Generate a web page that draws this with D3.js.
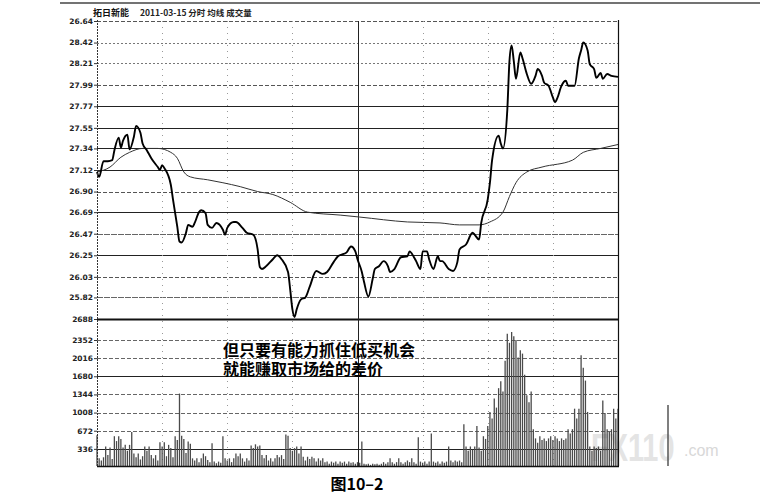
<!DOCTYPE html>
<html><head><meta charset="utf-8">
<script src="https://cdn.jsdelivr.net/npm/d3@7"></script>
<style>html,body{margin:0;padding:0;background:#fff;}svg{display:block;}body{position:relative;}</style>
</head><body>
<svg id="c" width="768" height="496"></svg>
<script>
// ---- data ----
const titleStock = "拓日新能";
const titleRest = "2011-03-15 分时 均线 成交量";
const caption = "图10–2";
const noteLines = ["但只要有能力抓住低买机会", "就能赚取市场给的差价"];
const watermark = ["FX110", ".com"];
const priceTicks = [28.64, 28.42, 28.21, 27.99, 27.77, 27.55, 27.34, 27.12, 26.90, 26.69, 26.47, 26.25, 26.03, 25.82, 25.60];
const priceTickLabels = ["26.64","28.42","28.21","27.99","27.77","27.55","27.34","27.12","26.90","26.69","26.47","26.25","26.03","25.82","2688"];
const volTicks = [2352, 2016, 1680, 1344, 1008, 672, 336];
const volTickLabels = ["2352","2016","1680","1344","1008","672","336"];
const timeMarks = [30, 60, 90, 120, 150, 180, 210];
// price line: minute, price
const priceMin = [0,1,3,5,7,8,10,11,12,14,15,17,18,20,21,23,25,28,29,30,31,34,35,37,38,39,41,42,44,45,47,48,50,51,53,55,58,59,60,63,64,67,69,72,74,75,76,78,81,83,85,88,89,90,91,92,94,96,98,101,104,106,109,111,113,115,117,119,120,122,123,125,127,128,130,132,134,135,137,140,143,144,146,147,149,150,152,153,155,157,158,159,162,164,166,167,170,173,174,176,177,180,181,182,185,186,187,189,190,191,192,193,195,196,198,200,202,203,205,206,208,210,211,212,214,216,217,220,222,223,224,226,227,229,230,232,233,235,237,240];
const priceVal = [27.10,27.05,27.21,27.21,27.22,27.32,27.45,27.35,27.42,27.48,27.33,27.46,27.57,27.50,27.39,27.32,27.24,27.15,27.12,27.17,27.14,26.97,26.82,26.54,26.39,26.38,26.48,26.56,26.54,26.58,26.69,26.71,26.68,26.56,26.53,26.58,26.51,26.46,26.53,26.59,26.59,26.53,26.48,26.46,26.31,26.13,26.11,26.14,26.21,26.25,26.21,26.08,25.90,25.70,25.62,25.70,25.80,25.82,25.93,26.09,26.06,26.08,26.18,26.24,26.26,26.28,26.34,26.29,26.21,26.08,25.98,25.83,26.01,26.11,26.14,26.19,26.14,26.08,26.11,26.23,26.24,26.29,26.23,26.19,26.11,26.29,26.29,26.21,26.11,26.24,26.19,26.19,26.11,26.09,26.18,26.31,26.36,26.48,26.46,26.41,26.58,26.82,26.99,27.22,27.47,27.39,27.34,27.73,28.23,28.39,28.23,28.05,28.32,28.26,28.10,28.00,28.08,28.15,28.08,28.01,27.98,27.86,27.81,27.85,27.98,28.03,27.98,27.98,28.26,28.34,28.42,28.34,28.20,28.15,28.06,28.11,28.05,28.10,28.08,28.07];
// average line: minute, price
const avgMin = [0,6,11,15,21,28,34,37,40,43,51,58,66,74,81,89,97,112,121,143,158,167,176,181,187,190,193,198,205,219,224,232,240];
const avgVal = [27.10,27.15,27.25,27.30,27.34,27.34,27.30,27.24,27.10,27.05,27.02,26.99,26.95,26.90,26.87,26.79,26.69,26.66,26.64,26.59,26.58,26.56,26.56,26.59,26.69,26.85,26.99,27.10,27.15,27.22,27.30,27.34,27.38];
// volume per minute (0..240)
const volume = [
590,160,120,180,380,220,360,150,570,480,
570,520,360,410,300,410,650,250,180,250,
140,200,380,300,380,220,160,220,120,460,
380,460,200,410,350,180,570,500,1360,580,
520,260,470,430,160,120,160,90,160,250,
200,130,90,440,100,70,100,80,570,160,
120,160,90,160,250,200,250,160,100,160,
120,400,350,420,380,400,220,160,220,120,
160,100,160,220,180,220,150,600,580,350,
300,350,380,250,380,190,120,190,150,190,
160,100,160,120,160,90,100,60,100,80,
100,60,100,80,100,60,100,80,90,60,
90,80,470,60,50,60,40,60,50,60,
40,60,90,60,90,160,90,60,90,160,
90,60,90,120,90,160,90,60,550,100,
80,100,60,100,620,100,80,100,60,100,
80,100,380,120,90,120,100,120,90,790,
380,300,380,320,380,760,360,300,570,520,
760,1020,900,1270,1100,1460,1590,1400,1970,2470,
2300,2500,2420,2350,2030,2160,2100,1710,1330,1200,
1400,700,530,450,570,500,530,480,530,570,
500,570,530,480,530,500,530,700,620,700,
1080,900,1080,2070,1840,1600,1020,380,300,380,
350,380,300,1230,1000,700,650,700,1080,900,
1080];

// ---- drawing ----
const svg = d3.select("#c");
const L = 97, R = 618;
const x = d3.scaleLinear().domain([0, 240]).range([L, R]);
const yP = d3.scaleLinear().domain([25.60, 28.64]).range([319, 21]);
const yV = d3.scaleLinear().domain([0, 2352]).range([467, 340]);
const VB = 466;

// page top line
svg.append("line").attr("x1", 60).attr("x2", 760).attr("y1", 3).attr("y2", 3)
  .attr("stroke", "#444").attr("stroke-width", 1.5);

// watermark (behind)
svg.append("text").attr("transform", "translate(591,461) scale(0.76,1)").text(watermark[0])
  .attr("font-family", "Arial, 'Liberation Sans', sans-serif")
  .attr("font-weight", "bold").attr("font-size", 38).attr("fill", "#e4e4e4");
svg.append("text").attr("x", 684).attr("y", 456).text(watermark[1])
  .attr("font-family", "Arial, 'Liberation Sans', sans-serif")
  .attr("font-size", 16).attr("fill", "#d8d8d8");

// price gridlines
const pStyle = ["dash","dot","dot","dash","solid","solid","solid","solid","dash","solid","gray","solid","dash","gray","thick"];
const gP = svg.append("g");
priceTicks.forEach((v, i) => {
  const s = pStyle[i];
  const ln = gP.append("line").attr("x1", L).attr("x2", R)
    .attr("y1", Math.round(yP(v)) + 0.5).attr("y2", Math.round(yP(v)) + 0.5);
  if (s === "solid") ln.attr("stroke", "#222").attr("stroke-width", 1);
  else if (s === "thick") ln.attr("stroke", "#111").attr("stroke-width", 2);
  else if (s === "gray") ln.attr("stroke", "#666").attr("stroke-width", 1).attr("stroke-dasharray", "6,1");
  else if (s === "dash") ln.attr("stroke", "#555").attr("stroke-width", 1).attr("stroke-dasharray", "4,2");
  else ln.attr("stroke", "#777").attr("stroke-width", 1).attr("stroke-dasharray", "2,2");
});
// volume gridlines
const vStyle = ["dash","dash","solid","dash","dash","dash","solid"];
volTicks.forEach((v, i) => {
  const ln = gP.append("line").attr("x1", L).attr("x2", R)
    .attr("y1", Math.round(yV(v)) + 0.5).attr("y2", Math.round(yV(v)) + 0.5);
  if (vStyle[i] === "solid") ln.attr("stroke", "#222").attr("stroke-width", 1);
  else ln.attr("stroke", "#666").attr("stroke-width", 1).attr("stroke-dasharray", "4,2");
});
// vertical time lines
timeMarks.forEach(t => {
  const xx = Math.round(x(t)) + 0.5;
  if (t === 120) {
    gP.append("line").attr("x1", xx).attr("x2", xx).attr("y1", 21).attr("y2", VB)
      .attr("stroke", "#222").attr("stroke-width", 1);
  } else {
    gP.append("line").attr("x1", xx).attr("x2", xx).attr("y1", 21).attr("y2", VB)
      .attr("stroke", "#999").attr("stroke-width", 1).attr("stroke-dasharray", "1,5");
  }
});

// volume bars
svg.append("g").selectAll("line").data(volume).join("line")
  .attr("x1", (d, i) => x(i)).attr("x2", (d, i) => x(i))
  .attr("y1", VB).attr("y2", d => Math.max(yV(d), 322))
  .attr("stroke", "#4a4a4a").attr("stroke-width", 1.3);

// average line
const avgData = avgMin.map((m, i) => [m, avgVal[i]]);
svg.append("path").datum(avgData)
  .attr("d", d3.line().x(d => x(d[0])).y(d => yP(d[1])).curve(d3.curveMonotoneX))
  .attr("fill", "none").attr("stroke", "#333").attr("stroke-width", 1);

// price line
const priceData = priceMin.map((m, i) => [m, priceVal[i]]);
svg.append("path").datum(priceData)
  .attr("d", d3.line().x(d => x(d[0])).y(d => yP(d[1])).curve(d3.curveMonotoneX))
  .attr("fill", "none").attr("stroke", "#000").attr("stroke-width", 1.9).attr("stroke-linejoin", "round");

// frame
svg.append("line").attr("x1", L + 0.5).attr("x2", L + 0.5).attr("y1", 20).attr("y2", VB)
  .attr("stroke", "#333").attr("stroke-width", 1).attr("stroke-dasharray", "2,1");
svg.append("line").attr("x1", R + 0.5).attr("x2", R + 0.5).attr("y1", 20).attr("y2", VB)
  .attr("stroke", "#111").attr("stroke-width", 1.2);
svg.append("line").attr("x1", L).attr("x2", R + 1).attr("y1", VB + 0.5).attr("y2", VB + 0.5)
  .attr("stroke", "#111").attr("stroke-width", 1.6);
// stray mark near watermark
svg.append("line").attr("x1", 668).attr("x2", 668).attr("y1", 405).attr("y2", VB)
  .attr("stroke", "#555").attr("stroke-width", 1.5);

// axes
const axP = d3.axisLeft(yP).tickValues(priceTicks)
  .tickFormat((d, i) => priceTickLabels[i]).tickSize(3).tickPadding(1);
const gAP = svg.append("g").attr("transform", `translate(${L},0)`).call(axP);
const axV = d3.axisLeft(yV).tickValues(volTicks)
  .tickFormat((d, i) => volTickLabels[i]).tickSize(3).tickPadding(1);
const gAV = svg.append("g").attr("transform", `translate(${L},0)`).call(axV);
[gAP, gAV].forEach(g => {
  g.select(".domain").remove();
  g.selectAll(".tick line").attr("stroke", "#333");
  g.selectAll("text").attr("font-family", "'DejaVu Sans', sans-serif")
    .attr("font-size", 7.5).attr("font-weight", "bold").attr("fill", "#222");
});

// header
svg.append("text").attr("x", 93).attr("y", 16).text(titleStock)
  .attr("font-family", "'Noto Sans CJK SC', sans-serif").attr("font-weight", "bold")
  .attr("font-size", 9).attr("fill", "#111");
svg.append("text").attr("x", 140).attr("y", 16).text(titleRest)
  .attr("font-family", "'Noto Sans CJK SC', sans-serif").attr("font-weight", "bold")
  .attr("font-size", 8.5).attr("fill", "#222");

// annotation: one HTML text block laid over the chart, tight line height as in the reference
d3.select("body").append("div")
  .style("position", "absolute").style("left", "223px").style("top", "340px")
  .style("font-family", "'Noto Sans CJK SC', sans-serif").style("font-weight", "bold")
  .style("font-size", "16px").style("line-height", "18.5px").style("color", "#000")
  .style("white-space", "nowrap")
  .html(noteLines.join("<br>"));

// caption
svg.append("text").attr("x", 357).attr("y", 490).attr("text-anchor", "middle").text(caption)
  .attr("font-family", "'Noto Sans CJK SC', sans-serif").attr("font-weight", "bold")
  .attr("font-size", 16).attr("fill", "#000");
</script>
</body></html>
